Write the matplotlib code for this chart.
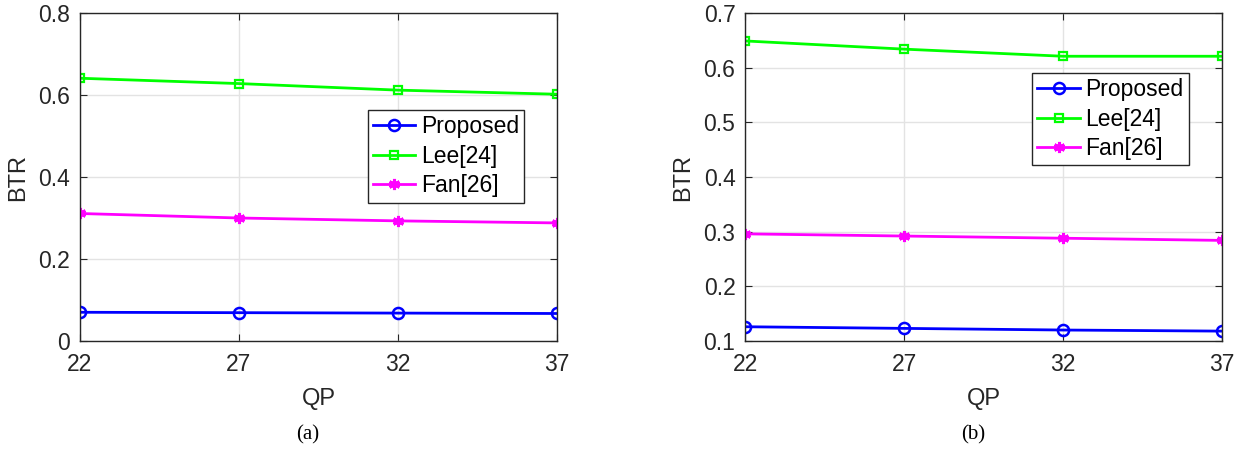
import matplotlib.pyplot as plt

plt.rcParams["font.family"] = ["Liberation Sans", "DejaVu Sans"]

QP = [22, 27, 32, 37]
LABELS = ["Proposed", "Lee[24]", "Fan[26]"]

# BTR per QP, panel (a)
proposed_a = [0.070, 0.069, 0.068, 0.067]
lee_a = [0.641, 0.628, 0.612, 0.602]
fan_a = [0.311, 0.300, 0.293, 0.288]

# BTR per QP, panel (b)
proposed_b = [0.126, 0.123, 0.120, 0.118]
lee_b = [0.649, 0.634, 0.621, 0.621]
fan_b = [0.296, 0.292, 0.288, 0.284]

STYLES = [
    dict(color="#0000ff", marker="o", markersize=8, markerfacecolor="none", markeredgewidth=1.8),
    dict(color="#00ff00", marker="s", markersize=6, markerfacecolor="none", markeredgewidth=1.6),
    dict(color="#ff00ff", marker=(6, 2, 0), markersize=8, markeredgewidth=2.2),
]
AX_COLOR = "#262626"

fig = plt.figure(figsize=(12.42, 4.51), dpi=100)
ax_a = fig.add_axes([0.0644, 0.244, 0.384, 0.727])
ax_b = fig.add_axes([0.600, 0.244, 0.384, 0.727])


def draw(ax, series, ylim, yticks, ylabels, legend_anchor, caption):
    for vals, label, st in zip(series, LABELS, STYLES):
        ax.plot(QP, vals, label=label, linewidth=2, **st)
    ax.set_xlim(22, 37)
    ax.set_ylim(*ylim)
    ax.set_xticks(QP)
    ax.set_yticks(yticks)
    ax.set_yticklabels(ylabels)
    ax.grid(True, color="#e3e3e3", linewidth=1)
    ax.set_axisbelow(True)
    ax.tick_params(direction="in", top=True, right=True, labelsize=16.5,
                   colors=AX_COLOR, length=5)
    ax.tick_params(axis="x", pad=9)
    ax.tick_params(axis="y", pad=7)
    for sp in ax.spines.values():
        sp.set_color(AX_COLOR)
        sp.set_linewidth(1)
    ax.set_xlabel("QP", fontsize=17, color=AX_COLOR, labelpad=8)
    ax.set_ylabel("BTR", fontsize=17, color=AX_COLOR, labelpad=7)
    leg = ax.legend(loc="upper left", bbox_to_anchor=legend_anchor, borderaxespad=0,
                    fontsize=16.5, fancybox=False, framealpha=1, edgecolor=AX_COLOR,
                    handlelength=1.85, handletextpad=0.25, labelspacing=0.29,
                    borderpad=0.22)
    leg.get_frame().set_linewidth(1)
    ax.text(0.478, -0.287, caption, transform=ax.transAxes, ha="center", va="center",
            fontsize=15, family="Liberation Serif")


draw(ax_a, [proposed_a, lee_a, fan_a], (0, 0.8), [0, 0.2, 0.4, 0.6, 0.8],
     ["0", "0.2", "0.4", "0.6", "0.8"], (0.604, 0.704), "(a)")
draw(ax_b, [proposed_b, lee_b, fan_b], (0.1, 0.7),
     [0.1, 0.2, 0.3, 0.4, 0.5, 0.6, 0.7],
     ["0.1", "0.2", "0.3", "0.4", "0.5", "0.6", "0.7"], (0.602, 0.817), "(b)")

fig.savefig("out.png", dpi=100)
plt.close(fig)
